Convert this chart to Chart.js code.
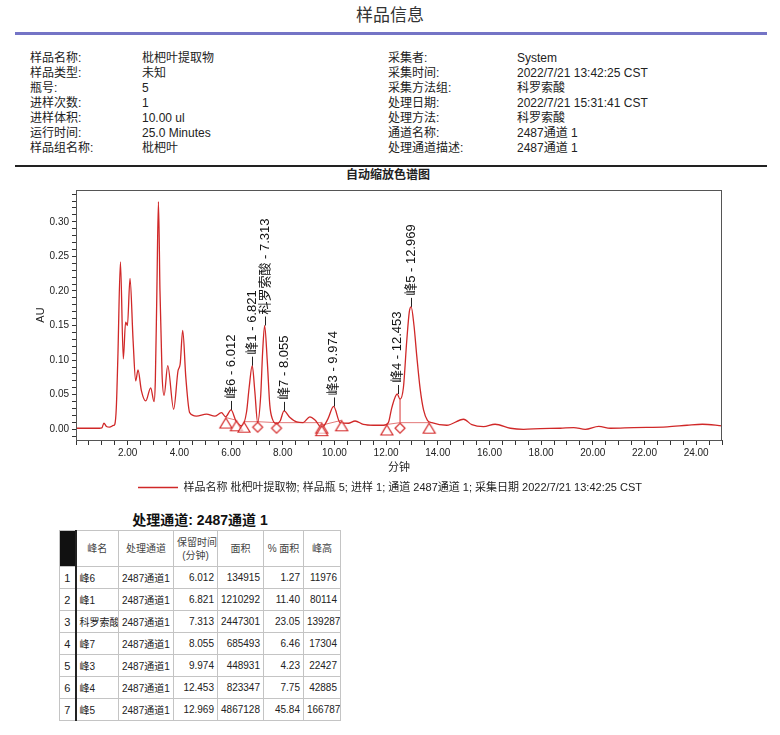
<!DOCTYPE html>
<html><head><meta charset="utf-8">
<script src="https://cdn.jsdelivr.net/npm/chart.js@4.4.1/dist/chart.umd.min.js"></script>
<style>
html,body{margin:0;padding:0;background:#fff;}
body{width:780px;height:735px;position:relative;overflow:hidden;font-family:"Liberation Sans","Noto Sans CJK SC",sans-serif;color:#222;}
.t{position:absolute;font-size:12px;line-height:14px;white-space:nowrap;}
#wrap{position:absolute;left:0;top:180px;width:780px;height:323px;}
table{position:absolute;left:59px;top:530px;width:281px;border-collapse:collapse;table-layout:fixed;font-size:10px;color:#222;}
td,th{border:1px solid #c4c4c4;padding:0 3px;height:21px;white-space:nowrap;overflow:hidden;}
th{font-weight:normal;color:#444;height:35px;line-height:13px;text-align:center;}
td.n{text-align:right;}
td.i{text-align:center;border-right:2px solid #222;font-size:11px;}
th.i{background:#111;border-right:2px solid #222;}
</style></head><body>
<div class="t" style="left:0;width:780px;text-align:center;top:5px;font-size:17px;line-height:22px;color:#333;">样品信息</div>
<div style="position:absolute;left:15px;top:32px;width:752px;height:3px;background:#7474c6;"></div>
<div id="info"></div>
<div style="position:absolute;left:15px;top:165px;width:752px;height:1.5px;background:#222;"></div>
<div class="t" style="left:0;width:776px;text-align:center;top:168px;font-weight:bold;">自动缩放色谱图</div>
<div id="wrap"><canvas id="c" width="780" height="323"></canvas></div>
<div class="t" style="left:0;width:400px;text-align:center;top:511px;font-size:14px;line-height:18px;font-weight:bold;color:#111;">处理通道: 2487通道 1</div>
<table id="tbl"></table>
<script>
// ---------- data ----------
const infoLeftLabels = ['样品名称:', '样品类型:', '瓶号:', '进样次数:', '进样体积:', '运行时间:', '样品组名称:'];
const infoLeftValues = ['枇杷叶提取物', '未知', '5', '1', '10.00 ul', '25.0 Minutes', '枇杷叶'];
const infoRightLabels = ['采集者:', '采集时间:', '采集方法组:', '处理日期:', '处理方法:', '通道名称:', '处理通道描述:'];
const infoRightValues = ['System', '2022/7/21 13:42:25 CST', '科罗索酸', '2022/7/21 15:31:41 CST', '科罗索酸', '2487通道 1', '2487通道 1'];

const timeMin = [0.00,0.50,0.90,1.00,1.08,1.18,1.30,1.45,1.50,1.56,1.62,1.72,1.83,1.92,1.99,2.09,2.21,2.31,2.40,2.53,2.70,2.89,3.02,3.07,3.13,3.19,3.25,3.33,3.41,3.55,3.78,3.95,4.03,4.13,4.25,4.40,4.66,5.05,5.37,5.63,5.79,6.00,6.19,6.42,6.60,6.70,6.82,6.92,7.03,7.15,7.22,7.30,7.40,7.50,7.60,7.76,7.90,8.05,8.28,8.54,8.79,9.05,9.25,9.51,9.75,9.97,10.22,10.54,10.80,11.12,11.51,11.90,12.09,12.22,12.43,12.54,12.67,12.80,12.90,12.97,13.08,13.19,13.32,13.45,13.60,13.77,14.35,15.00,15.32,15.77,16.22,16.81,17.32,17.97,18.74,19.26,19.71,20.23,20.68,21.59,22.88,23.65,24.24,25.00];
const absAU  = [0.0015,0.0015,0.0015,0.0020,0.0087,0.0040,0.0030,0.0055,0.0070,0.0310,0.1040,0.2420,0.1020,0.1550,0.1500,0.2180,0.1280,0.0700,0.0860,0.0560,0.0410,0.0600,0.0400,0.0700,0.2000,0.3290,0.2000,0.0800,0.0490,0.0920,0.0290,0.0850,0.0940,0.1430,0.0750,0.0240,0.0190,0.0220,0.0190,0.0240,0.0180,0.0280,0.0120,0.0050,0.0250,0.0600,0.0920,0.0550,0.0100,0.0500,0.1100,0.1500,0.1000,0.0350,0.0150,0.0080,0.0120,0.0266,0.0170,0.0106,0.0097,0.0180,0.0135,0.0023,0.0150,0.0330,0.0096,0.0087,0.0120,0.0070,0.0058,0.0058,0.0097,0.0310,0.0510,0.0435,0.0600,0.1280,0.1700,0.1770,0.1500,0.1050,0.0580,0.0280,0.0130,0.0096,0.0058,0.0145,0.0066,0.0038,0.0073,0.0015,0.0000,0.0010,0.0015,0.0025,0.0000,0.0043,0.0015,0.0025,0.0034,0.0058,0.0073,0.0050];

const peakNames   = ['峰6','峰1','科罗索酸','峰7','峰3','峰4','峰5'];
const peakRT      = [6.012, 6.821, 7.313, 8.055, 9.974, 12.453, 12.969];
const peakApexAU  = [0.028, 0.092, 0.150, 0.0266, 0.033, 0.051, 0.177];
const peakArea    = [134915, 1210292, 2447301, 685493, 448931, 823347, 4867128];
const peakPctArea = ['1.27', '11.40', '23.05', '6.46', '4.23', '7.75', '45.84'];
const peakHeight  = [11976, 80114, 139287, 17304, 22427, 42885, 166787];
const channelName = '2487通道1';

// integration events: baseline start/end (triangle) and drop (diamond)
const markTime = [5.80, 6.21, 6.50, 7.03, 7.76, 9.51, 9.51, 10.28, 12.03, 12.54, 13.67];
const markAU   = [0.017, 0.013, 0.011, 0.011, 0.0096, 0.0096, 0.006, 0.013, 0.007, 0.0096, 0.0096];
const markType = ['tri','tri','tri','dia','dia','tri','tri','tri','tri','dia','tri'];
const baselineSegments = [[0,1],[2,3,4,5],[6,7],[8,9,10]];

const legendText = '样品名称 枇杷叶提取物; 样品瓶 5; 进样 1; 通道 2487通道 1; 采集日期 2022/7/21 13:42:25 CST';

// ---------- header ----------
const info = document.getElementById('info');
const rowTop = [51, 66, 81, 96, 111, 126, 141];
function addText(x, y, s) { const d = document.createElement('div'); d.className = 't'; d.style.left = x + 'px'; d.style.top = y + 'px'; d.textContent = s; info.appendChild(d); }
infoLeftLabels.forEach((s, i) => { addText(30, rowTop[i], s); addText(142, rowTop[i], infoLeftValues[i]); addText(388, rowTop[i], infoRightLabels[i]); addText(517, rowTop[i], infoRightValues[i]); });

// ---------- table ----------
const tbl = document.getElementById('tbl');
let html = '<colgroup><col style="width:16px"><col style="width:43px"><col style="width:55px"><col style="width:44px"><col style="width:46px"><col style="width:40px"><col style="width:37px"></colgroup>';
html += '<tr><th class="i"></th><th>峰名</th><th>处理通道</th><th>保留时间<br>(分钟)</th><th>面积</th><th>% 面积</th><th>峰高</th></tr>';
peakNames.forEach((n, i) => {
  html += `<tr><td class="i">${i + 1}</td><td>${n}</td><td>${channelName}</td><td class="n">${peakRT[i].toFixed(3)}</td><td class="n">${peakArea[i]}</td><td class="n">${peakPctArea[i]}</td><td class="n">${peakHeight[i]}</td></tr>`;
});
tbl.innerHTML = html;

// ---------- chart ----------
const RED = '#d02828';
const FONT = '"Liberation Sans","Noto Sans CJK SC",sans-serif';
const TICKFONT = '"Liberation Sans Narrow","Liberation Sans",sans-serif';

function markerImage(kind) {
  const c = document.createElement('canvas');
  c.width = 16; c.height = 26;
  const g = c.getContext('2d');
  g.strokeStyle = '#d42a2a'; g.lineWidth = 1.2; g.fillStyle = 'rgba(255,255,255,0.6)';
  g.beginPath();
  if (kind === 'tri') { g.moveTo(8, 13.5); g.lineTo(14, 23.5); g.lineTo(2, 23.5); g.closePath(); }
  else { g.moveTo(8, 13.5); g.lineTo(13, 18.5); g.lineTo(8, 23.5); g.lineTo(3, 18.5); g.closePath(); }
  g.fill(); g.stroke();
  return c;
}
const triImg = markerImage('tri'), diaImg = markerImage('dia');

function traceAt(t) {
  for (let i = 0; i < timeMin.length - 1; i++) {
    if (t >= timeMin[i] && t <= timeMin[i + 1]) {
      const f = (t - timeMin[i]) / (timeMin[i + 1] - timeMin[i]);
      return absAU[i] + f * (absAU[i + 1] - absAU[i]);
    }
  }
  return 0;
}

const datasets = [{
  label: legendText,
  data: timeMin.map((t, i) => ({ x: t, y: absAU[i] })),
  showLine: true, borderColor: RED, backgroundColor: RED, borderWidth: 1.3,
  pointRadius: 0, cubicInterpolationMode: 'monotone', order: 1
}];
baselineSegments.forEach(seg => {
  datasets.push({ label: '_base', data: seg.map(k => ({ x: markTime[k], y: markAU[k] })), showLine: true,
    borderColor: '#e06a6a', borderWidth: 0.9, pointRadius: 0, tension: 0, order: 2 });
});
markType.forEach((k, i) => {
  if (k === 'dia') {
    datasets.push({ label: '_drop', data: [{ x: markTime[i], y: markAU[i] }, { x: markTime[i], y: traceAt(markTime[i]) }],
      showLine: true, borderColor: '#d83434', borderWidth: 1, pointRadius: 0, order: 2 });
  }
});
datasets.push({ label: '_marks', data: markTime.map((t, i) => ({ x: t, y: markAU[i] })),
  showLine: false, pointStyle: markType.map(k => k === 'tri' ? triImg : diaImg), pointRadius: 6, order: 0 });

function isMult(v, s) { const q = v / s; return Math.abs(q - Math.round(q)) < 1e-6; }

const annot = {
  id: 'annot',
  afterDatasetsDraw(chart) {
    const { ctx, chartArea: a, scales: { x, y } } = chart;
    ctx.save();
    // plot frame
    ctx.strokeStyle = '#555'; ctx.lineWidth = 1;
    ctx.strokeRect(a.left + 0.5, a.top + 0.5, a.right - a.left - 1, a.bottom - a.top);
    // peak labels
    ctx.fillStyle = '#111'; ctx.strokeStyle = '#222';
    ctx.font = '13px ' + FONT;
    peakNames.forEach((n, i) => {
      const px = x.getPixelForValue(peakRT[i]);
      const py = y.getPixelForValue(peakApexAU[i]);
      ctx.beginPath(); ctx.moveTo(Math.round(px) + 0.5, py); ctx.lineTo(Math.round(px) + 0.5, py - 9); ctx.stroke();
      ctx.save();
      ctx.translate(px, py - 11);
      ctx.rotate(-Math.PI / 2);
      ctx.textAlign = 'left'; ctx.textBaseline = 'middle';
      ctx.fillText(n + ' - ' + peakRT[i].toFixed(3), 0, 0);
      ctx.restore();
    });
    ctx.restore();
  }
};

new Chart(document.getElementById('c'), {
  type: 'scatter',
  data: { datasets },
  options: {
    responsive: false, animation: false, devicePixelRatio: 1,
    layout: { padding: { left: 0, right: 0, top: 10, bottom: 0 } },
    scales: {
      x: {
        type: 'linear', min: 0, max: 25,
        afterFit(s) { s.height = 34; },
        ticks: { stepSize: 0.5, autoSkip: false, maxRotation: 0, includeBounds: false, padding: 2, color: '#222',
          font: { size: 10, family: TICKFONT }, callback: v => (isMult(v, 2) && v > 0 && v < 25) ? v.toFixed(2) : '' },
        grid: { drawOnChartArea: false, tickLength: 5, color: '#333' },
        border: { color: '#444' },
        title: { display: true, text: '分钟', color: '#222', font: { size: 11, family: FONT }, padding: { top: 0, bottom: -1 } }
      },
      y: {
        min: -0.0155, max: 0.346,
        afterFit(s) { s.width = 76; },
        ticks: { stepSize: 0.01, autoSkip: false, includeBounds: false, padding: 3, color: '#222',
          font: { size: 10, family: TICKFONT }, callback: v => isMult(v, 0.05) ? v.toFixed(2) : '' },
        grid: { drawOnChartArea: false, tickLength: 4, color: '#333' },
        border: { color: '#444' },
        title: { display: true, text: 'AU', color: '#222', font: { size: 11, family: FONT }, padding: { top: 34, bottom: 0 } }
      },
      yRight: {
        position: 'right', min: 0, max: 1,
        afterFit(s) { s.width = 58; },
        ticks: { display: false }, grid: { display: false, drawTicks: false }, border: { display: false }
      }
    },
    plugins: {
      legend: {
        position: 'bottom',
        labels: { filter: it => !it.text.startsWith('_'), usePointStyle: true, pointStyle: 'line', pointStyleWidth: 40,
          padding: 8, color: '#222', font: { size: 11, family: FONT } }
      },
      tooltip: { enabled: false }
    }
  },
  plugins: [annot]
});
</script>
</body></html>
